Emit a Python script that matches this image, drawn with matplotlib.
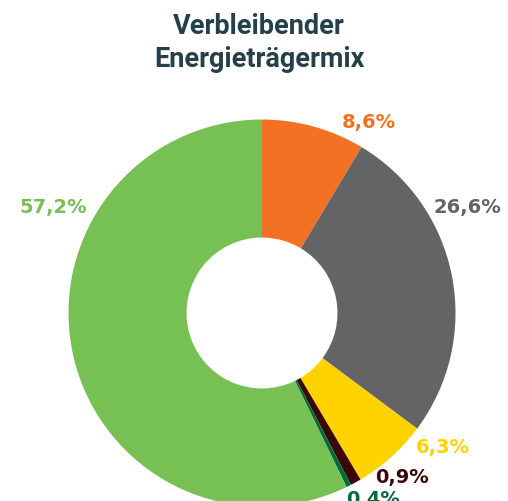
import matplotlib
matplotlib.use("Agg")
import matplotlib.pyplot as plt

categories = ["Orange", "Grau", "Gelb", "Braun", "Dunkelgrün", "Grün"]
values = [8.6, 26.6, 6.3, 0.9, 0.4, 57.2]
labels = ["8,6%", "26,6%", "6,3%", "0,9%", "0,4%", "57,2%"]
colors = ["#F37123", "#646466", "#FFD200", "#3A0808", "#006B3C", "#77C053"]
label_pos = [(0.550, 0.983), (1.063, 0.545), (0.933, -0.697),
             (0.721, -0.850), (0.576, -0.965), (-1.080, 0.546)]

W, H = 508, 501
fig = plt.figure(figsize=(W / 100, H / 100), dpi=100)
cx, cy, R = 262, 313, 193.5
ax = fig.add_axes([0, 0, 1, 1])
ax.pie(values, colors=colors, startangle=90, counterclock=False, radius=1,
       wedgeprops=dict(width=0.61, linewidth=0, antialiased=True))
ax.set_xlim((0 - cx) / R, (W - cx) / R)
ax.set_ylim((cy - H) / R, cy / R)
ax.set_aspect('auto')
ax.axis('off')

for lab, (x, y), c in zip(labels, label_pos, colors):
    ax.text(x, y, lab, color=c, fontsize=14, fontweight='bold',
            family='DejaVu Sans', ha='center', va='center')

fig.text(259 / W, 1 - 43 / H, "Verbleibender\nEnergieträgermix", ha='center', va='center',
         fontsize=19.5, fontweight='bold', family='Roboto', color='#26404A',
         linespacing=1.3)

fig.savefig("out.png", dpi=100)
